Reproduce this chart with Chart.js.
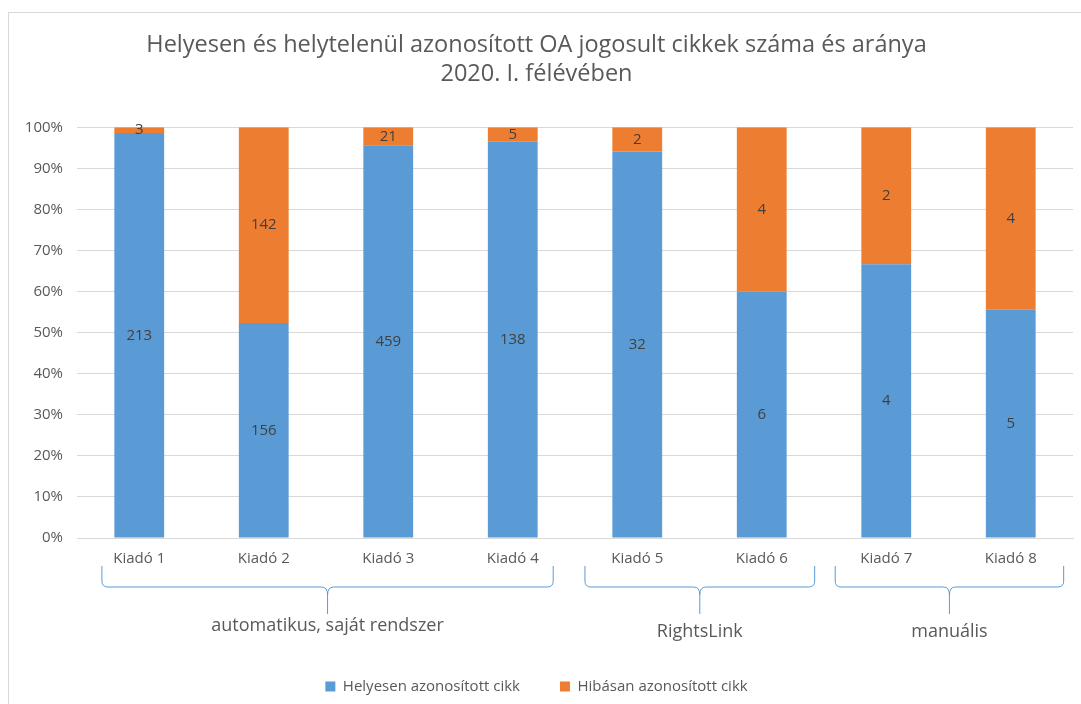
<!DOCTYPE html>
<html>
<head>
<meta charset="utf-8">
<script src="https://cdn.jsdelivr.net/npm/chart.js@4"></script>
<style>
    html, body { margin: 0; padding: 0; background: #fff; }
    body { width: 1081px; height: 704px; overflow: hidden; position: relative; }
    #frame { position: absolute; left: 8px; top: 12px; width: 1100px; height: 720px; border: 1px solid #d9d9d9; }
    #wrap { position: absolute; left: 0; top: 0; width: 1081px; height: 704px; }
</style>
</head>
<body>
<div id="frame"></div>
<div id="wrap"><canvas id="chart"></canvas></div>
<script>
const categories = ['Kiadó 1', 'Kiadó 2', 'Kiadó 3', 'Kiadó 4', 'Kiadó 5', 'Kiadó 6', 'Kiadó 7', 'Kiadó 8'];
const correctCounts = [213, 156, 459, 138, 32, 6, 4, 5];
const wrongCounts = [3, 142, 21, 5, 2, 4, 2, 4];
const seriesNames = ['Helyesen azonosított cikk', 'Hibásan azonosított cikk'];
const groupLabels = ['automatikus, saját rendszer', 'RightsLink', 'manuális'];
const groupFirst = [0, 4, 6];
const groupLast = [3, 5, 7];
const titleLines = ['Helyesen és helytelenül azonosított OA jogosult cikkek száma és aránya', '2020. I. félévében'];

const FONT = "'Open Sans', sans-serif";
const TEXT = '#595959';

// share of each series within a category, in percent
const totals = correctCounts.map((v, i) => v + wrongCounts[i]);
const correctPct = correctCounts.map((v, i) => v / totals[i] * 100);
const wrongPct = wrongCounts.map((v, i) => v / totals[i] * 100);
const counts = [correctCounts, wrongCounts];

// value labels in the middle of each segment
const valueLabels = {
    id: 'valueLabels',
    afterDatasetsDraw(chart) {
        const ctx = chart.ctx;
        ctx.save();
        ctx.font = '15px ' + FONT;
        ctx.fillStyle = '#404040';
        ctx.textAlign = 'center';
        ctx.textBaseline = 'middle';
        chart.data.datasets.forEach((ds, di) => {
            chart.getDatasetMeta(di).data.forEach((bar, i) => {
                ctx.fillText(String(counts[di][i]), bar.x, (bar.y + bar.base) / 2);
            });
        });
        ctx.restore();
    }
};

// curly braces grouping the publishers under the axis
const groupBraces = {
    id: 'groupBraces',
    afterDraw(chart) {
        const ctx = chart.ctx;
        const x = chart.scales.x;
        const half = (x.getPixelForValue(1) - x.getPixelForValue(0)) / 2;
        const pads = [[0.6, 0.65], [0.84, 0.85], [0.82, 0.85]];
        const top = 566, mid = 587, tip = 614, r = 6;
        ctx.save();
        ctx.strokeStyle = '#5b9bd5';
        ctx.lineWidth = 1;
        groupLabels.forEach((label, g) => {
            const L = x.getPixelForValue(groupFirst[g]) - half * pads[g][0];
            const R = x.getPixelForValue(groupLast[g]) + half * pads[g][1];
            const C = (L + R) / 2;
            ctx.beginPath();
            ctx.moveTo(L, top);
            ctx.lineTo(L, mid - r);
            ctx.quadraticCurveTo(L, mid, L + r, mid);
            ctx.lineTo(C - r, mid);
            ctx.quadraticCurveTo(C, mid, C, mid + r + 2);
            ctx.lineTo(C, tip);
            ctx.moveTo(C, mid + r + 2);
            ctx.quadraticCurveTo(C, mid, C + r, mid);
            ctx.lineTo(R - r, mid);
            ctx.quadraticCurveTo(R, mid, R, mid - r);
            ctx.lineTo(R, top);
            ctx.stroke();

            ctx.font = '18px ' + FONT;
            ctx.fillStyle = TEXT;
            ctx.textAlign = 'center';
            ctx.textBaseline = 'middle';
            ctx.fillText(label, C, g === 0 ? 626 : 632);
        });
        ctx.restore();
    }
};

new Chart(document.getElementById('chart'), {
    type: 'bar',
    data: {
        labels: categories,
        datasets: [
            { label: seriesNames[0], data: correctPct, backgroundColor: '#5b9bd5' },
            { label: seriesNames[1], data: wrongPct, backgroundColor: '#ed7d31' }
        ]
    },
    options: {
        responsive: true,
        maintainAspectRatio: false,
        animation: false,
        datasets: { bar: { categoryPercentage: 1, barPercentage: 0.4 } },
        layout: { padding: { left: 0, right: 8, top: 0, bottom: 0 } },
        plugins: {
            title: {
                display: true,
                text: titleLines,
                color: TEXT,
                font: { family: FONT, size: 23.5, weight: 'normal', lineHeight: 1.24 },
                padding: { top: 31, bottom: 38 }
            },
            legend: {
                position: 'bottom',
                labels: {
                    color: TEXT,
                    font: { family: FONT, size: 15 },
                    boxWidth: 10,
                    boxHeight: 10,
                    padding: 40
                }
            },
            tooltip: { enabled: false }
        },
        scales: {
            x: {
                stacked: true,
                grid: { display: false },
                border: { color: '#d9d9d9' },
                ticks: { color: TEXT, font: { family: FONT, size: 15 }, padding: 4 },
                afterFit(s) { s.height = s.chart.height - 538 - s.chart.legend.height; }
            },
            y: {
                stacked: true,
                min: 0,
                max: 100,
                border: { display: false },
                grid: { color: '#d9d9d9', drawTicks: false },
                ticks: {
                    stepSize: 10,
                    color: TEXT,
                    font: { family: FONT, size: 15 },
                    padding: 14,
                    callback: v => v + '%'
                },
                afterFit(s) { s.width = 77; }
            }
        }
    },
    plugins: [valueLabels, groupBraces]
});
</script>
</body>
</html>
